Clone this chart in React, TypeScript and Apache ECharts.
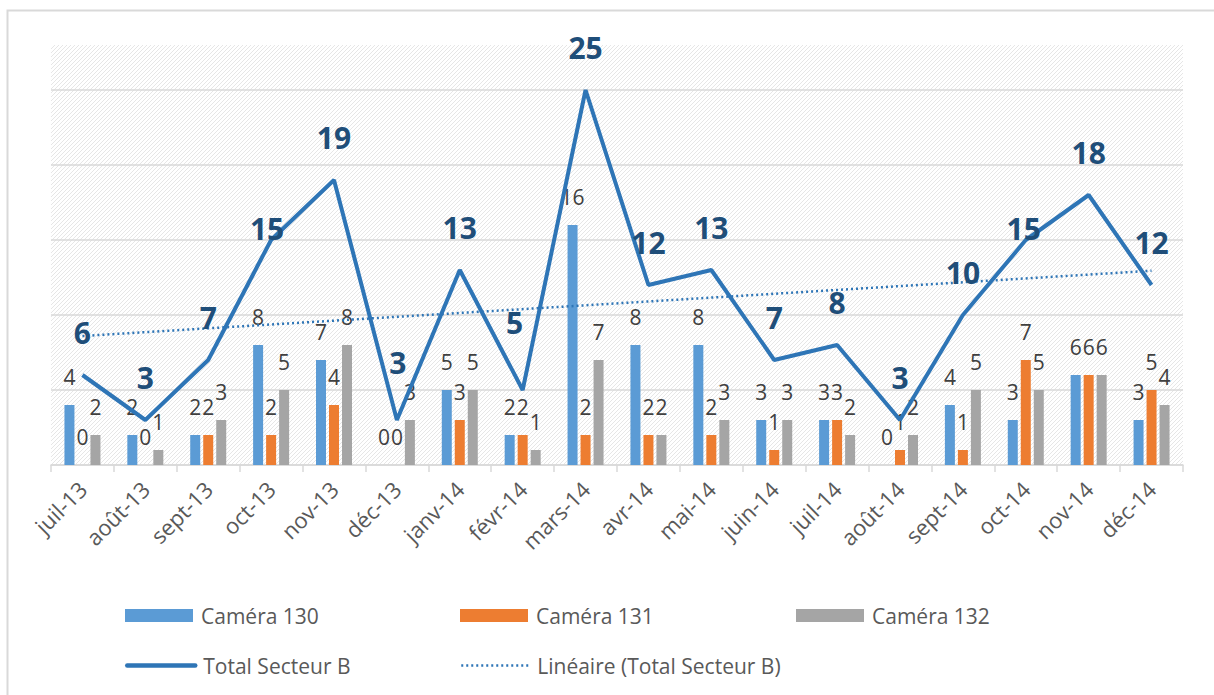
import React, { useEffect, useRef } from "react";
import * as echarts from "echarts";

const categories = [
  "juil-13", "août-13", "sept-13", "oct-13", "nov-13", "déc-13",
  "janv-14", "févr-14", "mars-14", "avr-14", "mai-14", "juin-14",
  "juil-14", "août-14", "sept-14", "oct-14", "nov-14", "déc-14",
];
const camera130 = [4, 2, 2, 8, 7, 0, 5, 2, 16, 8, 8, 3, 3, 0, 4, 3, 6, 3];
const camera131 = [0, 0, 2, 2, 4, 0, 3, 2, 2, 2, 2, 1, 3, 1, 1, 7, 6, 5];
const camera132 = [2, 1, 3, 5, 8, 3, 5, 1, 7, 2, 3, 3, 2, 2, 5, 5, 6, 4];
const totalB = [6, 3, 7, 15, 19, 3, 13, 5, 25, 12, 13, 7, 8, 3, 10, 15, 18, 12];
// trend line end values (first and last month)
const trendEnds = [8.6, 12.95];

const seriesNames = ["Caméra 130", "Caméra 131", "Caméra 132", "Total Secteur B", "Linéaire (Total Secteur B)"];

// label nudges for the total series (pixel offsets), keyed by category index
const totalLabelNudge: Record<number, [number, number]> = {
  3: [-4, 31],
  5: [1, -15],
  7: [-8, -25],
  15: [-2, 31],
};

const FONT = "'Open Sans', 'Noto Sans', sans-serif";

function makePattern(): string {
  const c = document.createElement("canvas");
  c.width = 4;
  c.height = 4;
  const ctx = c.getContext("2d")!;
  ctx.fillStyle = "#ffffff";
  ctx.fillRect(0, 0, 4, 4);
  ctx.fillStyle = "#e6e6e6";
  for (let i = 0; i < 4; i++) ctx.fillRect(i, 3 - i, 1, 1);
  return c.toDataURL();
}

export default function App() {
  const ref = useRef<HTMLDivElement>(null);
  useEffect(() => {
    if (!ref.current) return;
    const chart = echarts.init(ref.current, undefined, { renderer: "svg" });
    const pattern = { image: makePattern(), repeat: "repeat", imageWidth: 4, imageHeight: 4 };

    const barLabel = {
      show: true,
      position: "top",
      distance: 18,
      color: "#404040",
      fontSize: 21,
      fontFamily: FONT,
    };
    const barColors = ["#5b9bd5", "#ed7d31", "#a5a5a5"];
    const barData = [camera130, camera131, camera132];

    const last = categories.length - 1;
    const trendData = categories.map((_, i) => (i === 0 ? trendEnds[0] : i === last ? trendEnds[1] : null));

    const totalData = totalB.map((v, i) =>
      totalLabelNudge[i] ? { value: v, label: { offset: totalLabelNudge[i] } } : v
    );

    const legendBase = {
      itemWidth: 68,
      itemHeight: 13,
      textStyle: { fontSize: 21, color: "#595959", fontFamily: FONT, padding: [0, 0, 0, 3] },
    };

    chart.setOption({
      animation: false,
      backgroundColor: "#ffffff",
      textStyle: { fontFamily: FONT },
      graphic: [
        {
          type: "rect",
          shape: { x: 7.5, y: 10.5, width: 1400, height: 1000 },
          style: { fill: "none", stroke: "#d9d9d9", lineWidth: 2 },
          silent: true,
        },
      ],
      grid: {
        left: 51,
        right: 31,
        top: 45,
        bottom: 230,
        show: true,
        borderWidth: 0,
        backgroundColor: pattern,
      },
      legend: [
        { ...legendBase, data: [{ name: seriesNames[0], icon: "rect" }], left: 120, top: 600 },
        { ...legendBase, data: [{ name: seriesNames[1], icon: "rect" }], left: 455, top: 600 },
        { ...legendBase, data: [{ name: seriesNames[2], icon: "rect" }], left: 791, top: 600 },
        {
          ...legendBase,
          itemHeight: 14,
          itemStyle: { opacity: 0 },
          lineStyle: { width: 4.5, cap: "round" },
          data: [seriesNames[3]],
          left: 120,
          top: 650,
        },
        {
          ...legendBase,
          itemHeight: 14,
          itemStyle: { opacity: 0 },
          lineStyle: { width: 2.5 },
          data: [seriesNames[4]],
          left: 455,
          top: 650,
        },
      ],
      xAxis: {
        type: "category",
        data: categories,
        axisLine: { lineStyle: { color: "#d9d9d9", width: 1.5 } },
        axisTick: { show: true, alignWithLabel: false, length: 7, lineStyle: { color: "#d9d9d9", width: 1.5 } },
        axisLabel: { rotate: 45, interval: 0, fontSize: 22, color: "#595959", margin: 20, fontFamily: FONT },
      },
      yAxis: {
        type: "value",
        min: 0,
        max: 28,
        interval: 5,
        axisLabel: { show: false },
        axisLine: { show: false },
        axisTick: { show: false },
        splitLine: {
          lineStyle: {
            color: ["#d9d9d9", "#d9d9d9", "#d9d9d9", "#d9d9d9", "#d9d9d9", "#d9d9d9", "rgba(0,0,0,0)"],
            width: 1.5,
          },
        },
      },
      series: [
        ...barData.map((d, k) => ({
          name: seriesNames[k],
          type: "bar",
          data: d,
          barWidth: 10,
          barGap: "30%",
          itemStyle: { color: barColors[k] },
          label: barLabel,
          z: 2,
        })),
        {
          name: seriesNames[3],
          type: "line",
          data: totalData,
          symbol: "circle",
          symbolSize: 0,
          showSymbol: true,
          itemStyle: { color: "#2e75b6" },
          lineStyle: { color: "#2e75b6", width: 4 },
          label: {
            show: true,
            position: "top",
            distance: 28,
            fontSize: 30,
            fontWeight: "bold",
            color: "#1f4e79",
            fontFamily: FONT,
          },
          z: 4,
        },
        {
          name: seriesNames[4],
          type: "line",
          data: trendData,
          connectNulls: true,
          symbol: "none",
          itemStyle: { color: "#2e75b6" },
          lineStyle: { color: "#2e75b6", width: 2.5, type: [2, 3] },
          z: 3,
        },
      ],
    });
    return () => chart.dispose();
  }, []);
  return (
    <div
      ref={ref}
      style={{ position: "absolute", left: 0, top: 0, width: 1214, height: 695 }}
    />
  );
}
